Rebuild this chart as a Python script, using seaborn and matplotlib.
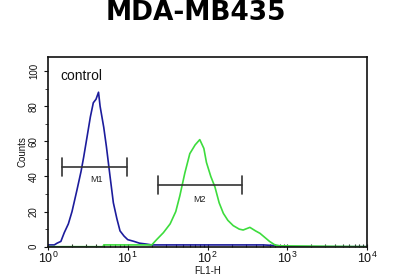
import numpy as np
import pandas as pd
import matplotlib
matplotlib.use("Agg")
import matplotlib.pyplot as plt
import seaborn as sns
from matplotlib.ticker import LogLocator, NullFormatter, FixedLocator

sns.set_style("ticks")
plt.rcParams['font.family'] = ['Liberation Sans', 'DejaVu Sans']

title = "MDA-MB435"
control_x = [1.0, 1.2, 1.3, 1.45, 1.6, 1.8, 2.0, 2.3, 2.6, 2.8, 3.1, 3.4, 3.7, 4.0, 4.3, 4.5,
             5.0, 5.4, 6.0, 6.6, 7.3, 8.0, 9.0, 10, 12, 14, 17, 20, 30, 50, 100, 200, 500,
             800, 1000, 10000]
control_y = [1, 1, 2, 3, 8, 13, 20, 32, 43, 51, 63, 74, 82, 84, 88, 80,
             68, 57, 40, 25, 16, 9, 6, 4, 3, 2, 1.5, 1, 1, 1, 1, 1, 1,
             0.5, 0, 0]
sample_x = [1, 4.9, 5.0, 10, 20, 23, 28, 34, 40, 45, 52, 60, 70, 80, 90, 97, 110, 124,
            140, 158, 180, 210, 250, 280, 340, 400, 455, 600, 700, 800, 10000]
sample_y = [0, 0, 1, 1, 1, 4, 8, 13, 20, 29, 42, 53, 58, 61, 56, 48, 40, 34,
            25, 19, 15, 12, 10, 9.5, 11, 9, 7.6, 3, 1, 0.5, 0]
markers = ["M1", "M2"]
marker_lo = [1.5, 24]
marker_hi = [9.7, 267]
marker_y = [45.5, 35]
label_x = [4.0, 80]
label_y = [38, 27]

df = pd.concat([
    pd.DataFrame({"FL1-H": control_x, "Counts": control_y, "s": "control"}),
    pd.DataFrame({"FL1-H": sample_x, "Counts": sample_y, "s": "sample"}),
])

fig = plt.figure(figsize=(4, 2.8), dpi=100)
ax = fig.add_axes([0.12, 0.119, 0.7975, 0.677])
sns.lineplot(data=df, x="FL1-H", y="Counts", hue="s", sort=False,
             palette={"control": "#1c1c9c", "sample": "#3ddc3d"},
             linewidth=1.2, legend=False, ax=ax, estimator=None)
ax.set_xscale("log")
ax.set_xlim(1, 10000)
ax.set_ylim(0, 108)

for m, lo, hi, yv, lx, ly in zip(markers, marker_lo, marker_hi, marker_y, label_x, label_y):
    ax.plot([lo, hi], [yv, yv], color="#333333", lw=1.2)
    ax.plot([lo, lo], [yv - 5, yv + 5], color="#333333", lw=1.2)
    ax.plot([hi, hi], [yv - 5, yv + 5], color="#333333", lw=1.2)
    ax.text(lx, ly, m, fontsize=6.5, ha="center", va="center", color="#222222")

ax.text(1.45, 97, "control", fontsize=10, ha="left", va="center", color="#111111")

ax.set_yticks([0, 20, 40, 60, 80, 100])
ax.yaxis.set_minor_locator(FixedLocator(np.arange(0, 108, 10)))
ax.tick_params(axis="y", labelsize=7, labelrotation=90, length=3, width=0.8, colors="#111111")
ax.tick_params(axis="y", which="minor", length=2)
for lab in ax.get_yticklabels():
    lab.set_va("center")
ax.xaxis.set_major_locator(LogLocator(base=10))
ax.xaxis.set_minor_locator(LogLocator(base=10, subs=np.arange(2, 10)))
ax.xaxis.set_minor_formatter(NullFormatter())
ax.tick_params(axis="x", which="major", labelsize=9, length=4, direction="inout", width=0.8, pad=1, colors="#111111")
ax.tick_params(axis="x", which="minor", length=2.5, direction="in", width=0.8)
ax.set_xlabel("FL1-H", fontsize=7, labelpad=0, color="#111111")
ax.set_ylabel("Counts", fontsize=7, labelpad=1, color="#111111")
for s in ax.spines.values():
    s.set_linewidth(1.2)
    s.set_color("#111111")

fig.text(0.49, 0.952, title, fontsize=19, fontweight="bold", ha="center", va="center",
         family=["DejaVu Sans"], color="black")
fig.savefig("out.png", dpi=100)
